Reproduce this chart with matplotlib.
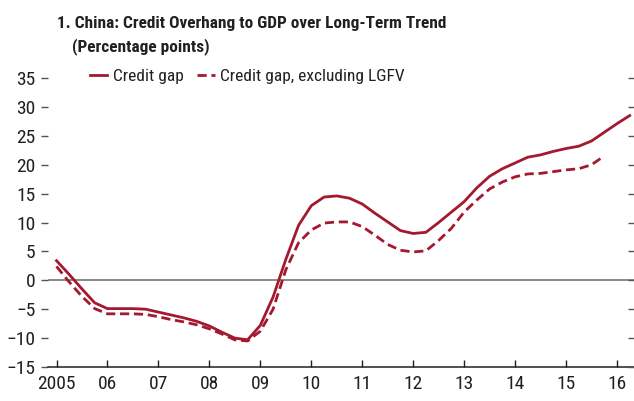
import numpy as np
import matplotlib
matplotlib.use("Agg")
import matplotlib.pyplot as plt

# quarterly series, first point = 2005 Q1
start_year = 2005
credit_gap = [3.4, 1.0, -1.5, -3.9,
              -4.9, -4.9, -4.9, -5.0,
              -5.5, -6.0, -6.5, -7.1,
              -7.9, -9.0, -10.0, -10.3,
              -7.8, -2.9, 3.6, 9.5,
              12.9, 14.4, 14.6, 14.2,
              13.2, 11.6, 10.1, 8.6,
              8.1, 8.3, 10.0, 11.8,
              13.6, 16.0, 18.0, 19.3,
              20.3, 21.3, 21.7, 22.3,
              22.8, 23.2, 24.1, 25.6,
              27.1, 28.5]
credit_gap_ex_lgfv = [2.4, -0.3, -2.8, -4.9,
                      -5.8, -5.8, -5.8, -5.9,
                      -6.3, -6.8, -7.2, -7.7,
                      -8.4, -9.3, -10.3, -10.5,
                      -8.8, -5.0, 1.8, 6.5,
                      8.7, 9.9, 10.1, 10.1,
                      9.3, 7.8, 6.2, 5.2,
                      4.9, 5.1, 6.9, 9.0,
                      11.8, 13.9, 15.8, 17.0,
                      17.9, 18.4, 18.5, 18.8,
                      19.1, 19.3, 20.0, 21.5]
year_ticks = list(range(2005, 2017))
year_labels = ["2005"] + ["%02d" % (y % 100) for y in year_ticks[1:]]
y_ticks = list(range(-15, 40, 5))

t1 = start_year + np.arange(len(credit_gap)) / 4
t2 = start_year + np.arange(len(credit_gap_ex_lgfv)) / 4

plt.rcParams['font.family'] = ['Roboto Condensed', 'Liberation Sans', 'DejaVu Sans']
red = '#a3192f'
txt = '#231f20'
fs = 14

fig = plt.figure(figsize=(6.34, 4.01), dpi=100)
ax = fig.add_axes([48 / 634, 34 / 401, 586 / 634, 289 / 401])

ax.axhline(0, color='#808080', lw=1.3, zorder=1)
ax.plot(t1, credit_gap, color=red, lw=2.0, label='Credit gap', zorder=3)
ax.plot(t2, credit_gap_ex_lgfv, color=red, lw=2.0, ls=(0, (3.3, 1.7)),
        label='Credit gap, excluding LGFV', zorder=3)

ax.set_xlim(2004.833, 2016.334)
ax.set_ylim(-15, 35)
ax.set_xticks(year_ticks)
ax.set_xticklabels(year_labels)
ax.set_yticks(y_ticks)

for s in ['top', 'left', 'right']:
    ax.spines[s].set_visible(False)
ax.spines['bottom'].set_color(txt)
ax.spines['bottom'].set_linewidth(1.1)

ax.tick_params(axis='x', direction='in', length=5, width=1.0, color=txt,
               pad=6, labelsize=fs, labelcolor=txt)
ax.tick_params(axis='y', direction='out', length=5, width=1.0, color='#555555',
               pad=4, labelsize=fs, labelcolor=txt)

# right-hand tick marks only
ax2 = ax.twinx()
ax2.set_ylim(-15, 35)
ax2.set_yticks(y_ticks)
ax2.tick_params(axis='y', direction='in', length=4.5, width=1.0, color='#555555',
                labelright=False)
for s in ax2.spines.values():
    s.set_visible(False)

ax.legend(loc='center left', bbox_to_anchor=((90 - 48) / 586, 1.005), ncol=2,
          frameon=False, fontsize=12.5, handlelength=1.0, handletextpad=0.3,
          columnspacing=0.8, borderpad=0, borderaxespad=0, labelcolor=txt)

fig.text(57 / 634, 1 - 28 / 401, '1. China: Credit Overhang to GDP over Long-Term Trend',
         fontsize=12.4, fontweight='bold', color=txt, va='baseline')
fig.text(72 / 634, 1 - 51 / 401, '(Percentage points)',
         fontsize=12.4, fontweight='bold', color=txt, va='baseline')

fig.savefig('out.png', dpi=100)
